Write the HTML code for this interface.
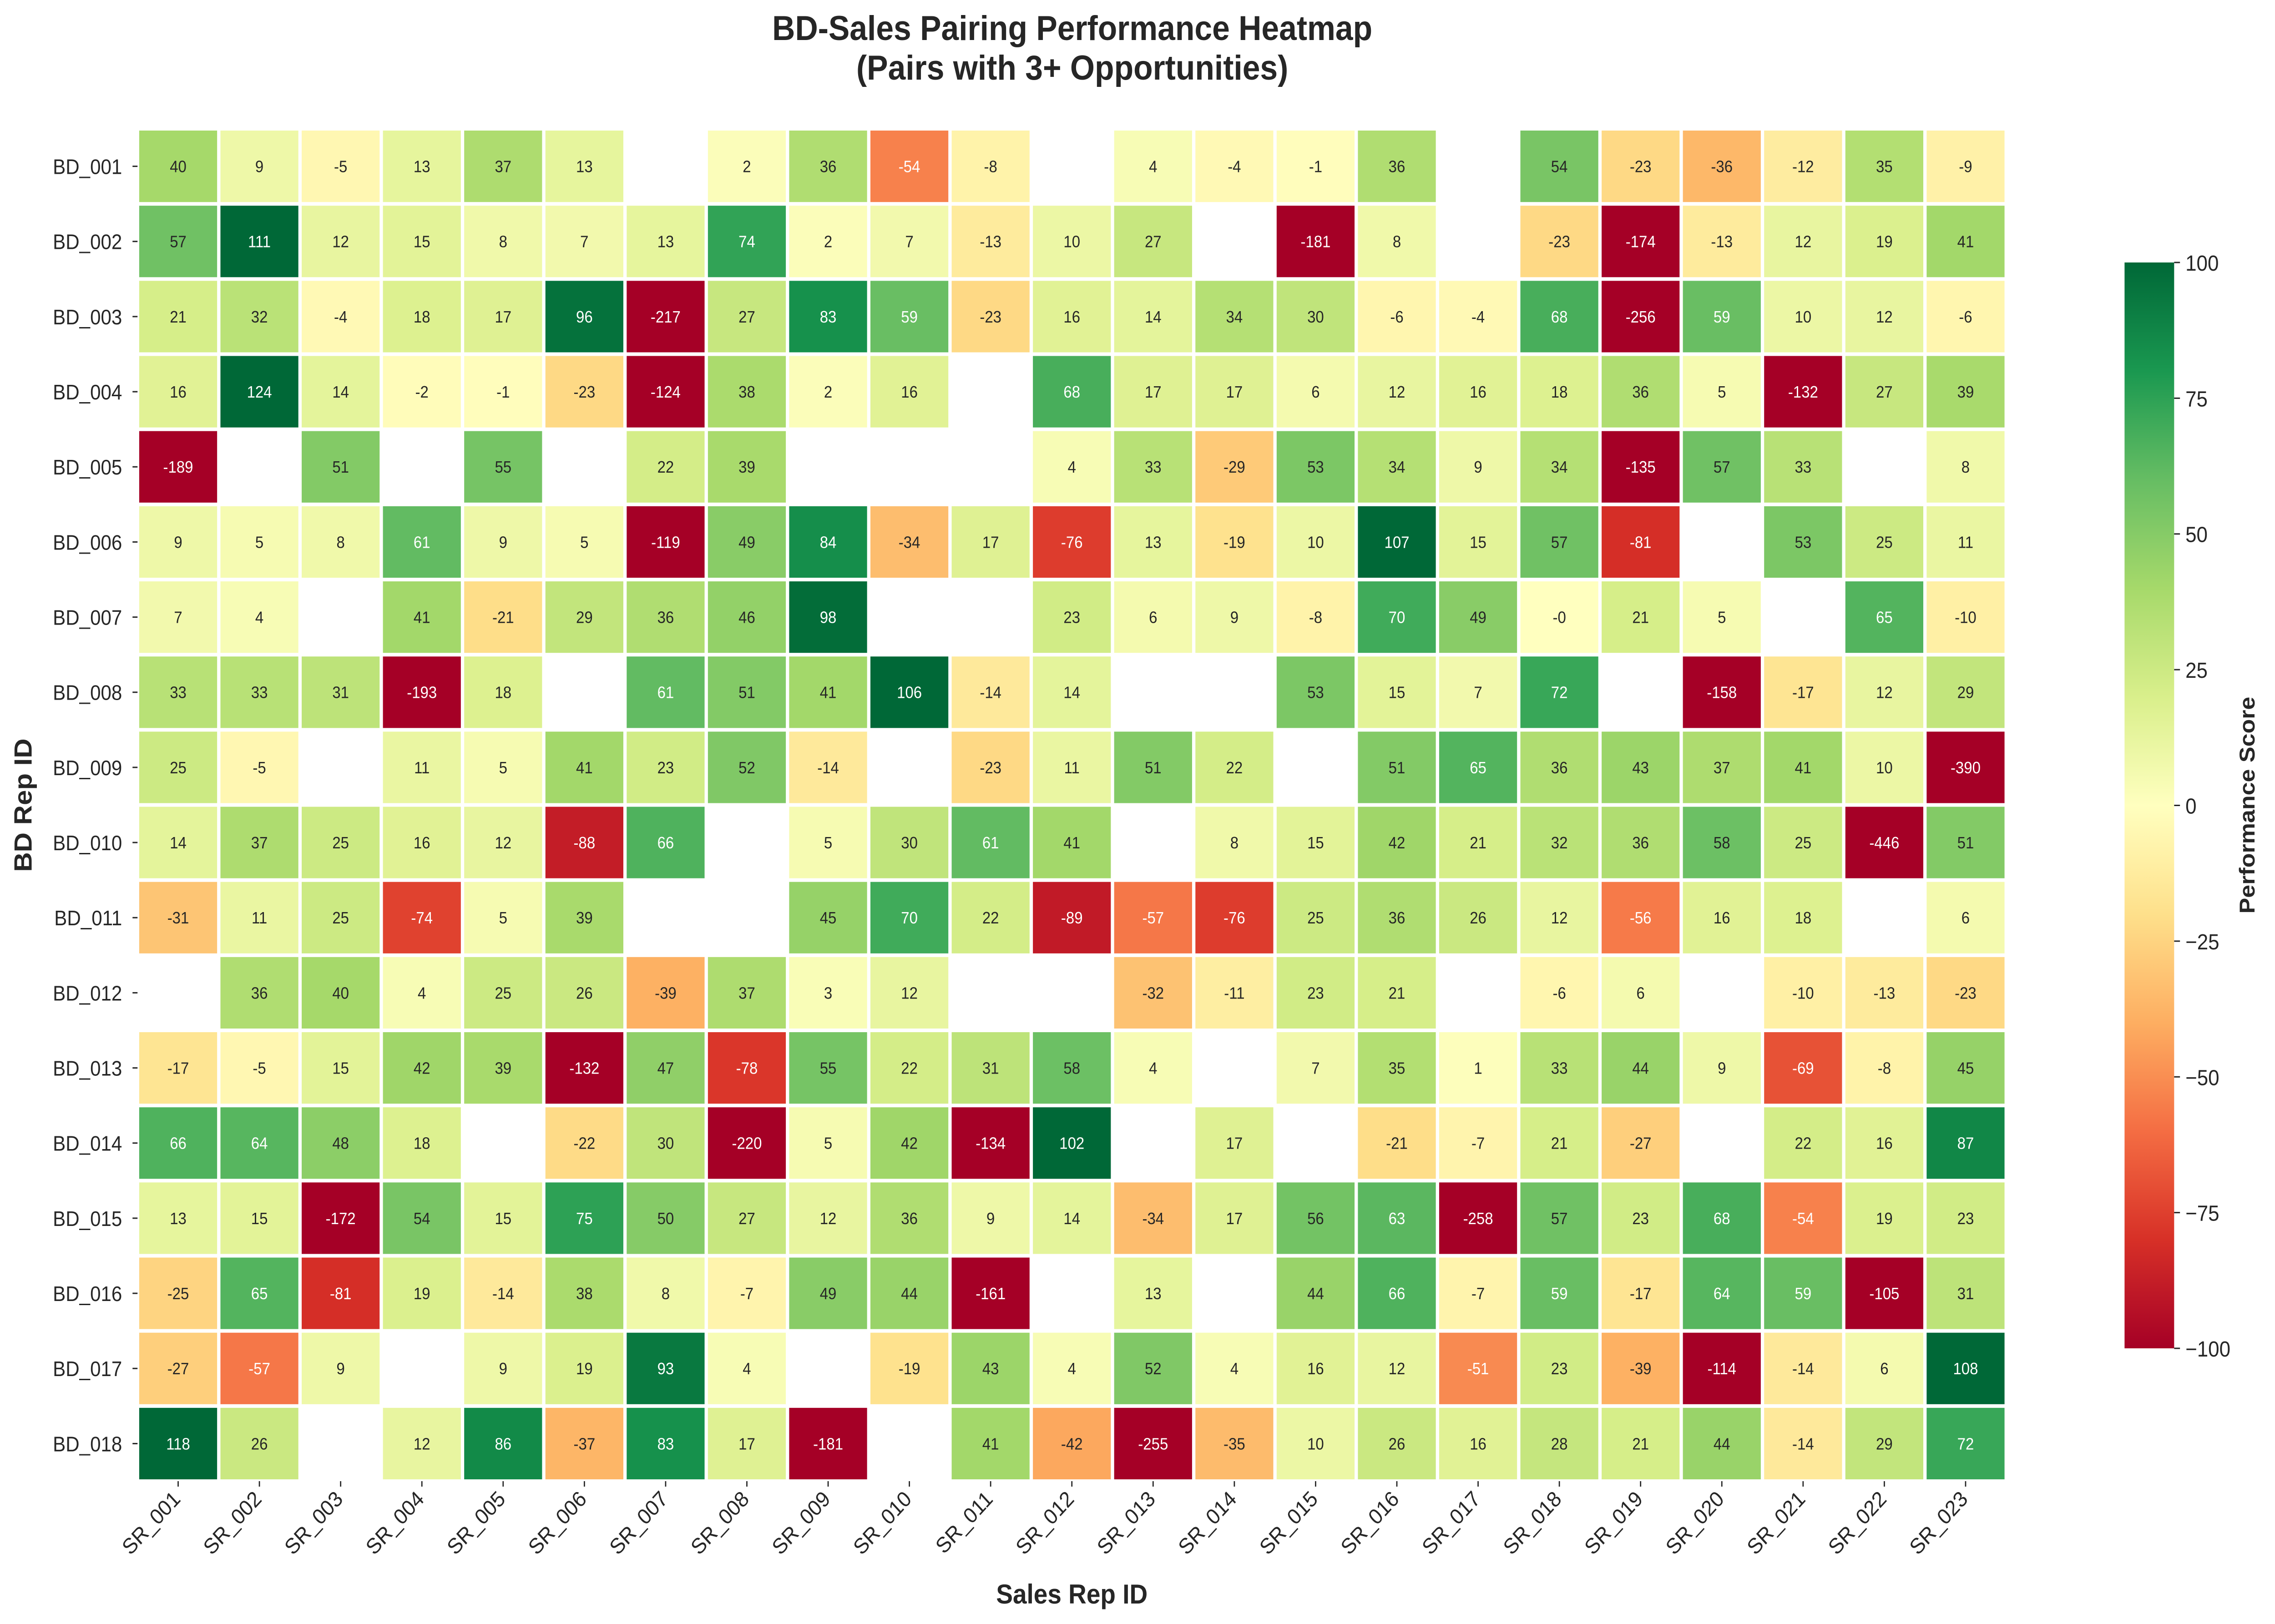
<!DOCTYPE html>
<html><head><meta charset="utf-8"><style>
html,body{margin:0;padding:0;background:#fff;width:100%;height:100%;overflow:hidden;}
svg{display:block;position:absolute;left:0;top:0;width:100vw;height:100vh;font-family:"Liberation Sans",Arial,sans-serif;}
</style></head><body>
<svg id="chart" viewBox="0 0 5459 3570" preserveAspectRatio="none" xmlns="http://www.w3.org/2000/svg">
<defs>
<linearGradient id="cbgrad" x1="0" y1="1" x2="0" y2="0"></linearGradient>
</defs>
<text x="2573" y="88" text-anchor="middle" font-size="76" font-weight="bold" fill="#262626">BD-Sales Pairing Performance Heatmap</text>
<text x="2573" y="175" text-anchor="middle" font-size="76" font-weight="bold" fill="#262626">(Pairs with 3+ Opportunities)</text>
<g id="cells"></g>
<g id="yticks"></g>
<g id="xticks"></g>
<text x="2572" y="3525" text-anchor="middle" font-size="60" font-weight="bold" fill="#262626">Sales Rep ID</text>
<text transform="translate(76,1770) rotate(-90)" text-anchor="middle" font-size="60" font-weight="bold" fill="#262626">BD Rep ID</text>
<g id="colorbar"></g>
<text transform="translate(5410,1770) rotate(-90)" text-anchor="middle" font-size="52" font-weight="bold" fill="#262626">Performance Score</text>
</svg>
<script>
const rowLabels = ["BD_001","BD_002","BD_003","BD_004","BD_005","BD_006","BD_007","BD_008","BD_009","BD_010","BD_011","BD_012","BD_013","BD_014","BD_015","BD_016","BD_017","BD_018"];
const colLabels = ["SR_001","SR_002","SR_003","SR_004","SR_005","SR_006","SR_007","SR_008","SR_009","SR_010","SR_011","SR_012","SR_013","SR_014","SR_015","SR_016","SR_017","SR_018","SR_019","SR_020","SR_021","SR_022","SR_023"];
const N = null;
const values = [
[40,9,-5,13,37,13,N,2,36,-54,-8,N,4,-4,-1,36,N,54,-23,-36,-12,35,-9],
[57,111,12,15,8,7,13,74,2,7,-13,10,27,N,-181,8,N,-23,-174,-13,12,19,41],
[21,32,-4,18,17,96,-217,27,83,59,-23,16,14,34,30,-6,-4,68,-256,59,10,12,-6],
[16,124,14,-2,-1,-23,-124,38,2,16,N,68,17,17,6,12,16,18,36,5,-132,27,39],
[-189,N,51,N,55,N,22,39,N,N,N,4,33,-29,53,34,9,34,-135,57,33,N,8],
[9,5,8,61,9,5,-119,49,84,-34,17,-76,13,-19,10,107,15,57,-81,N,53,25,11],
[7,4,N,41,-21,29,36,46,98,N,N,23,6,9,-8,70,49,-0.1,21,5,N,65,-10],
[33,33,31,-193,18,N,61,51,41,106,-14,14,N,N,53,15,7,72,N,-158,-17,12,29],
[25,-5,N,11,5,41,23,52,-14,N,-23,11,51,22,N,51,65,36,43,37,41,10,-390],
[14,37,25,16,12,-88,66,N,5,30,61,41,N,8,15,42,21,32,36,58,25,-446,51],
[-31,11,25,-74,5,39,N,N,45,70,22,-89,-57,-76,25,36,26,12,-56,16,18,N,6],
[N,36,40,4,25,26,-39,37,3,12,N,N,-32,-11,23,21,N,-6,6,N,-10,-13,-23],
[-17,-5,15,42,39,-132,47,-78,55,22,31,58,4,N,7,35,1,33,44,9,-69,-8,45],
[66,64,48,18,N,-22,30,-220,5,42,-134,102,N,17,N,-21,-7,21,-27,N,22,16,87],
[13,15,-172,54,15,75,50,27,12,36,9,14,-34,17,56,63,-258,57,23,68,-54,19,23],
[-25,65,-81,19,-14,38,8,-7,49,44,-161,N,13,N,44,66,-7,59,-17,64,59,-105,31],
[-27,-57,9,N,9,19,93,4,N,-19,43,4,52,4,16,12,-51,23,-39,-114,-14,6,108],
[118,26,N,12,86,-37,83,17,-181,N,41,-42,-255,-35,10,26,16,28,21,44,-14,29,72]
];
const cbTicks = [-100,-75,-50,-25,0,25,50,75,100];
const vmin = -100, vmax = 100;

const NS = "http://www.w3.org/2000/svg";
const X0 = 330, X1 = 4814, Y0 = 283, Y1 = 3256;
const cw = (X1 - X0) / colLabels.length, ch = (Y1 - Y0) / rowLabels.length;
function xPos(i){ return X0 + i * cw; }
function yPos(j){ return Y0 + j * ch; }
const stops = ["#a50026","#d73027","#f46d43","#fdae61","#fee08b","#ffffbf","#d9ef8b","#a6d96a","#66bd63","#1a9850","#006837"];
function hex(h){ return [parseInt(h.substr(1,2),16),parseInt(h.substr(3,2),16),parseInt(h.substr(5,2),16)]; }
function cmap(v){
  let t = (v - vmin) / (vmax - vmin); t = Math.max(0, Math.min(1, t));
  const p = t * (stops.length - 1), i = Math.min(stops.length - 2, Math.floor(p)), f = p - i;
  const a = hex(stops[i]), b = hex(stops[i+1]);
  return [0,1,2].map(k => Math.round(a[k] + (b[k]-a[k]) * f));
}
function lum(c){
  const l = c.map(x => { x/=255; return x <= 0.03928 ? x/12.92 : Math.pow((x+0.055)/1.055, 2.4); });
  return 0.2126*l[0] + 0.7152*l[1] + 0.0722*l[2];
}
function mk(tag, attrs, parent){
  const e = document.createElementNS(NS, tag);
  for (const k in attrs) e.setAttribute(k, attrs[k]);
  parent.appendChild(e); return e;
}
const cells = document.getElementById("cells");
values.forEach((row, j) => {
  row.forEach((v, i) => {
    if (v === null) return;
    const c = cmap(v);
    const r = mk("rect", {x: xPos(i) + 4, y: yPos(j) + 4, width: cw - 8, height: ch - 8, fill: `rgb(${c[0]},${c[1]},${c[2]})`}, cells);
    
    
    const t = mk("text", {x: xPos(i) + cw/2, y: yPos(j) + ch/2 + 13, "text-anchor": "middle", "font-size": 36, fill: lum(c) > 0.408 ? "#262626" : "#ffffff"}, cells);
    t.textContent = v.toFixed(0);
    
    
  });
});
const yt = document.getElementById("yticks");
rowLabels.forEach((l, j) => {
  mk("line", {x1: X0 - 12, x2: X0, y1: yPos(j) + ch/2, y2: yPos(j) + ch/2, stroke: "#262626", "stroke-width": 3}, yt);
  const t = mk("text", {x: 293, y: yPos(j) + ch/2 + 17, "text-anchor": "end", "font-size": 46, fill: "#262626"}, yt);
  t.textContent = l;
  
  
});
const xt = document.getElementById("xticks");
colLabels.forEach((l, i) => {
  const cx = xPos(i) + cw/2;
  mk("line", {x1: cx, x2: cx, y1: Y1, y2: Y1 + 12, stroke: "#262626", "stroke-width": 3}, xt);
  const t = mk("text", {transform: `translate(${cx + 8},${Y1 + 42}) rotate(-45)`, "text-anchor": "end", "font-size": 48, fill: "#262626"}, xt);
  t.textContent = l;
  
  
});
const grad = document.getElementById("cbgrad");
for (let k = 0; k <= 20; k++){
  const c = cmap(vmin + (vmax - vmin) * k / 20);
  mk("stop", {offset: (k/20), "stop-color": `rgb(${c[0]},${c[1]},${c[2]})`}, grad);
}
const CBX = 5098, CBW = 119, CBT = 577, CBB = 2964;
const cb = document.getElementById("colorbar");
const cbr = mk("rect", {x: CBX, y: CBT, width: CBW, height: CBB - CBT, fill: "url(#cbgrad)"}, cb);


function cbY(v){ return CBB - (v - vmin) / (vmax - vmin) * (CBB - CBT); }
cbTicks.forEach(v => {
  mk("line", {x1: CBX + CBW, x2: CBX + CBW + 14, y1: cbY(v), y2: cbY(v), stroke: "#262626", "stroke-width": 3}, cb);
  const t = mk("text", {x: CBX + CBW + 27, y: cbY(v) + 18, "font-size": 48, fill: "#262626"}, cb);
  t.textContent = v < 0 ? "\u2212" + Math.abs(v) : String(v);
  
  
});
</script>
</body></html>
